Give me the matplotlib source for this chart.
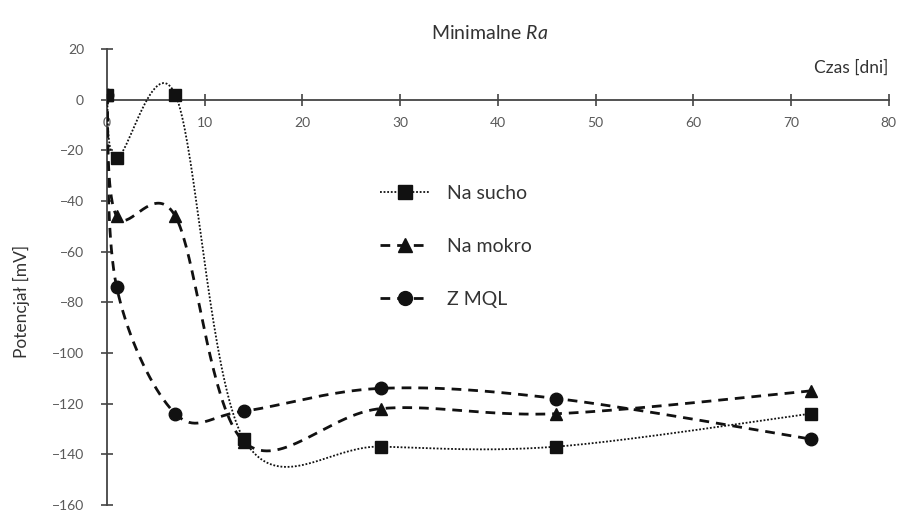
import numpy as np
import matplotlib.pyplot as plt
from matplotlib.lines import Line2D

plt.rcParams['font.family'] = ['Lato', 'DejaVu Sans']
plt.rcParams['mathtext.fontset'] = 'custom'
plt.rcParams['mathtext.it'] = 'Lato:italic'
plt.rcParams['mathtext.rm'] = 'Lato'

# czas ekspozycji [dni] i potencjał [mV]
czas = [0, 1, 7, 14, 28, 46, 72]
na_sucho = [2, -23, 2, -134, -137, -137, -124]
na_mokro = [2, -46, -46, -135, -122, -124, -115]
z_mql = [2, -74, -124, -123, -114, -118, -134]

x_ticks = [0, 10, 20, 30, 40, 50, 60, 70, 80]
y_ticks = [20, 0, -20, -40, -60, -80, -100, -120, -140, -160]

INK = '#111111'
GREY = '#595959'


def smooth(x, y, n=40):
    # krzywa wygładzona jak w Excelu (Bezier / Catmull-Rom)
    p = np.column_stack([x, y]).astype(float)
    out = []
    for i in range(len(p) - 1):
        p0 = p[i - 1] if i > 0 else p[i]
        p1, p2 = p[i], p[i + 1]
        p3 = p[i + 2] if i + 2 < len(p) else p[i + 1]
        c1 = p1 + (p2 - p0) / 6
        c2 = p2 - (p3 - p1) / 6
        t = np.linspace(0, 1, n)[:, None]
        seg = (1 - t)**3 * p1 + 3 * (1 - t)**2 * t * c1 + 3 * (1 - t) * t**2 * c2 + t**3 * p2
        out.append(seg if i == 0 else seg[1:])
    s = np.vstack(out)
    return s[:, 0], s[:, 1]


fig = plt.figure(figsize=(9.06, 5.11), dpi=100)
ax = fig.add_axes([0.118, 0.012, 0.863, 0.892])

series = [
    (z_mql, 'o', (0, (3.5, 2.5)), 2.0, 2, 'Z MQL'),
    (na_mokro, '^', (0, (3.5, 2.5)), 2.0, 3, 'Na mokro'),
    (na_sucho, 's', (0, (1, 1)), 1.3, 4, 'Na sucho'),
]
handles = {}
for vals, mk, ls, lw, z, name in series:
    sx, sy = smooth(czas, vals)
    ax.plot(sx, sy, color=INK, linestyle=ls, linewidth=lw, zorder=z)
    ax.plot(czas, vals, linestyle='none', marker=mk, markersize=9,
            color=INK, zorder=z + 0.5)
    handles[name] = Line2D([], [], color=INK, linestyle=ls, linewidth=lw,
                           marker=mk, markersize=10)

ax.set_xlim(0, 80)
ax.set_ylim(-160, 20)
ax.spines['left'].set_position(('data', 0))
ax.spines['bottom'].set_position(('data', 0))
ax.spines['right'].set_visible(False)
ax.spines['top'].set_visible(False)
for s in ('left', 'bottom'):
    ax.spines[s].set_color('#444444')
    ax.spines[s].set_linewidth(1.3)

ax.set_xticks(x_ticks)
ax.set_yticks(y_ticks)
ax.tick_params(axis='both', direction='inout', length=9, width=1.2,
               color='#444444', labelcolor=GREY, labelsize=10)
ax.tick_params(axis='x', pad=8)
ax.tick_params(axis='y', pad=12)

fig.text(0.541, 0.935, 'Minimalne $\\mathit{Ra}$', ha='center', va='center',
         fontsize=14, color='#333333')
fig.text(0.981, 0.868, 'Czas [dni]', ha='right', va='center',
         fontsize=12.5, color='#333333')
fig.text(0.024, 0.41, 'Potencjał [mV]', rotation=90, ha='center',
         va='center', fontsize=12.5, color='#333333')

order = ['Na sucho', 'Na mokro', 'Z MQL']
fig.legend([handles[k] for k in order], order, loc='upper left',
           bbox_to_anchor=(0.40, 0.673), frameon=False, fontsize=14,
           labelspacing=1.85, handlelength=2.6, handletextpad=0.85,
           labelcolor='#333333')

fig.savefig('out.png', dpi=100)
